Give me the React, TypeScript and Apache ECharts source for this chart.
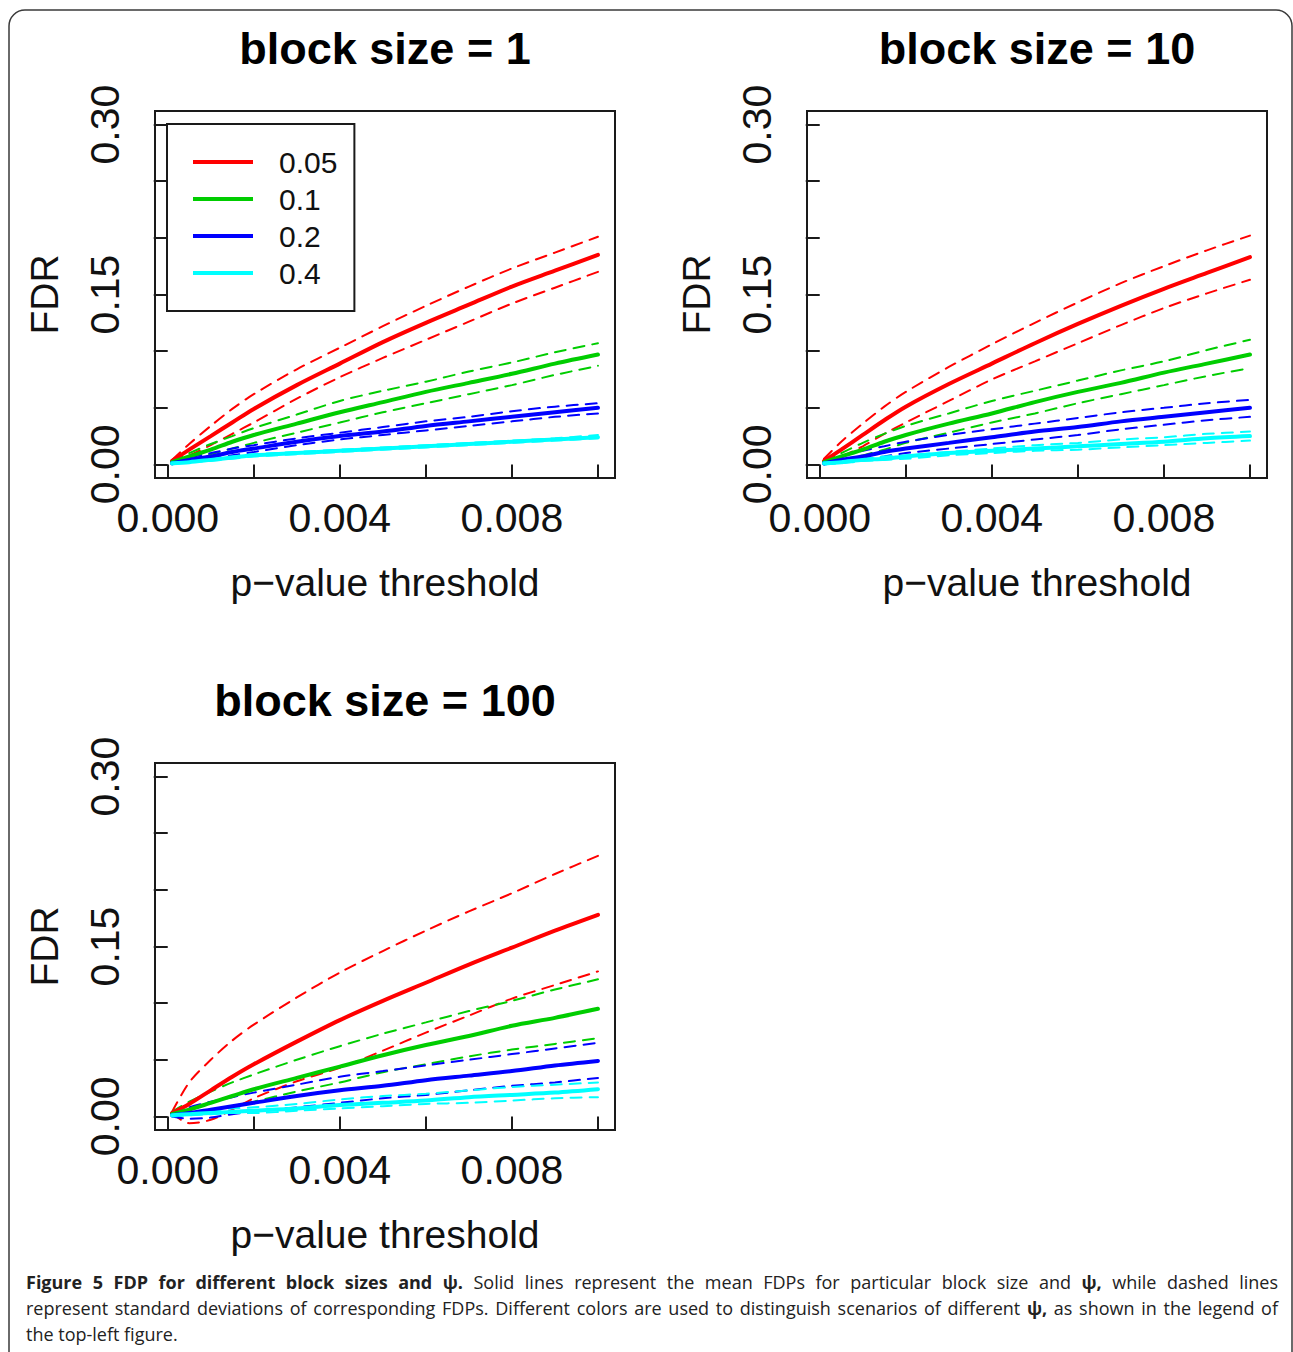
import React, { useEffect, useRef } from "react";
import * as echarts from "echarts";

// ---------------- data ----------------
const P_THRESHOLDS = [0.0001, 0.0005, 0.001, 0.0015, 0.002, 0.003, 0.004, 0.005, 0.006, 0.007, 0.008, 0.009, 0.01];
const PSI_LEVELS = ["0.05", "0.1", "0.2", "0.4"];
const PSI_COLORS = ["#FF0000", "#00CD00", "#0000FF", "#00FFFF"];
const PANEL_TITLES = ["block size = 1", "block size = 10", "block size = 100"];
const X_TICKS = [0, 0.002, 0.004, 0.006, 0.008, 0.01];
const X_LABELS = [0, 0.004, 0.008];
const Y_TICKS = [0, 0.05, 0.1, 0.15, 0.2, 0.25, 0.3];
const Y_LABELS = [0, 0.15, 0.3];

// each: [mean, mean + sd, mean - sd]
const BS1_PSI005 = [
  [0.003, 0.013, 0.025, 0.037, 0.049, 0.070, 0.089, 0.108, 0.125, 0.141, 0.157, 0.171, 0.185],
  [0.004, 0.018, 0.034, 0.049, 0.062, 0.084, 0.103, 0.122, 0.140, 0.157, 0.173, 0.187, 0.201],
  [0.002, 0.008, 0.017, 0.027, 0.037, 0.058, 0.077, 0.094, 0.110, 0.126, 0.142, 0.156, 0.170],
];
const BS1_PSI01 = [
  [0.002, 0.007, 0.013, 0.020, 0.026, 0.036, 0.046, 0.055, 0.064, 0.072, 0.080, 0.089, 0.097],
  [0.003, 0.010, 0.018, 0.025, 0.032, 0.044, 0.056, 0.065, 0.073, 0.082, 0.090, 0.099, 0.107],
  [0.001, 0.004, 0.009, 0.014, 0.019, 0.028, 0.037, 0.046, 0.054, 0.062, 0.070, 0.079, 0.087],
];
const BS1_PSI02 = [
  [0.001, 0.004, 0.007, 0.011, 0.014, 0.020, 0.025, 0.029, 0.034, 0.038, 0.042, 0.046, 0.050],
  [0.002, 0.006, 0.010, 0.014, 0.017, 0.023, 0.028, 0.033, 0.038, 0.042, 0.047, 0.051, 0.054],
  [0.001, 0.003, 0.005, 0.008, 0.011, 0.017, 0.022, 0.026, 0.030, 0.034, 0.038, 0.042, 0.045],
];
const BS1_PSI04 = [
  [0.001, 0.002, 0.004, 0.006, 0.008, 0.010, 0.012, 0.014, 0.016, 0.018, 0.020, 0.022, 0.024],
  [0.001, 0.003, 0.005, 0.007, 0.009, 0.011, 0.013, 0.015, 0.017, 0.019, 0.021, 0.023, 0.026],
  [0.000, 0.002, 0.003, 0.005, 0.007, 0.009, 0.011, 0.013, 0.015, 0.017, 0.019, 0.021, 0.023],
];

const BS10_PSI005 = [
  [0.003, 0.013, 0.026, 0.039, 0.051, 0.071, 0.089, 0.107, 0.124, 0.140, 0.155, 0.169, 0.183],
  [0.005, 0.020, 0.036, 0.051, 0.064, 0.086, 0.106, 0.125, 0.143, 0.160, 0.175, 0.189, 0.202],
  [0.002, 0.007, 0.016, 0.027, 0.037, 0.056, 0.075, 0.091, 0.107, 0.123, 0.138, 0.151, 0.163],
];
const BS10_PSI01 = [
  [0.002, 0.007, 0.013, 0.020, 0.026, 0.036, 0.045, 0.055, 0.064, 0.072, 0.081, 0.089, 0.097],
  [0.003, 0.010, 0.019, 0.027, 0.034, 0.045, 0.056, 0.065, 0.074, 0.083, 0.091, 0.101, 0.110],
  [0.001, 0.003, 0.008, 0.013, 0.019, 0.028, 0.037, 0.045, 0.054, 0.062, 0.070, 0.078, 0.085],
];
const BS10_PSI02 = [
  [0.001, 0.004, 0.007, 0.011, 0.014, 0.019, 0.024, 0.029, 0.033, 0.038, 0.042, 0.046, 0.050],
  [0.002, 0.007, 0.012, 0.016, 0.020, 0.026, 0.031, 0.036, 0.041, 0.046, 0.050, 0.054, 0.057],
  [0.000, 0.002, 0.004, 0.007, 0.010, 0.014, 0.018, 0.022, 0.026, 0.031, 0.035, 0.039, 0.042],
];
const BS10_PSI04 = [
  [0.001, 0.002, 0.004, 0.005, 0.007, 0.010, 0.012, 0.014, 0.016, 0.018, 0.020, 0.023, 0.025],
  [0.001, 0.003, 0.005, 0.007, 0.008, 0.011, 0.014, 0.017, 0.019, 0.022, 0.024, 0.027, 0.029],
  [0.000, 0.001, 0.003, 0.004, 0.005, 0.008, 0.010, 0.012, 0.013, 0.015, 0.017, 0.019, 0.021],
];

const BS100_PSI005 = [
  [0.003, 0.011, 0.023, 0.035, 0.046, 0.066, 0.085, 0.102, 0.118, 0.134, 0.149, 0.164, 0.178],
  [0.004, 0.030, 0.050, 0.067, 0.081, 0.105, 0.127, 0.146, 0.164, 0.181, 0.197, 0.214, 0.230],
  [0.003, -0.006, -0.003, 0.006, 0.016, 0.031, 0.043, 0.058, 0.074, 0.089, 0.104, 0.116, 0.128],
];
const BS100_PSI01 = [
  [0.002, 0.006, 0.012, 0.018, 0.024, 0.034, 0.044, 0.054, 0.063, 0.071, 0.080, 0.087, 0.095],
  [0.004, 0.013, 0.022, 0.030, 0.037, 0.050, 0.062, 0.073, 0.083, 0.093, 0.102, 0.112, 0.121],
  [0.001, 0.002, 0.005, 0.009, 0.013, 0.022, 0.030, 0.039, 0.046, 0.053, 0.059, 0.064, 0.069],
];
const BS100_PSI02 = [
  [0.001, 0.003, 0.006, 0.009, 0.012, 0.018, 0.023, 0.027, 0.032, 0.036, 0.040, 0.045, 0.049],
  [0.002, 0.008, 0.013, 0.017, 0.021, 0.028, 0.035, 0.040, 0.045, 0.050, 0.055, 0.060, 0.065],
  [0.000, -0.002, -0.001, 0.002, 0.004, 0.008, 0.012, 0.016, 0.019, 0.023, 0.027, 0.030, 0.034],
];
const BS100_PSI04 = [
  [0.001, 0.002, 0.003, 0.004, 0.005, 0.007, 0.010, 0.012, 0.014, 0.017, 0.019, 0.021, 0.024],
  [0.001, 0.003, 0.005, 0.007, 0.008, 0.011, 0.015, 0.018, 0.020, 0.023, 0.026, 0.028, 0.030],
  [0.000, 0.001, 0.002, 0.003, 0.003, 0.005, 0.007, 0.009, 0.011, 0.012, 0.014, 0.016, 0.017],
];

const PANEL_DATA = [
  [BS1_PSI005, BS1_PSI01, BS1_PSI02, BS1_PSI04],
  [BS10_PSI005, BS10_PSI01, BS10_PSI02, BS10_PSI04],
  [BS100_PSI005, BS100_PSI01, BS100_PSI02, BS100_PSI04],
];

const CAPTION_BOLD = "Figure 5 FDP for different block sizes and ψ.";
const CAPTION_LINE1 = "Solid lines represent the mean FDPs for particular block size and ψ, while dashed lines";
const CAPTION_LINE2 = "represent standard deviations of corresponding FDPs. Different colors are used to distinguish scenarios of different ψ, as shown in the legend of";
const CAPTION_LINE3 = "the top-left figure.";

// ---------------- layout ----------------
const W = 1293;
const H = 1352;
const FONT = '"Liberation Sans", Arial, Helvetica, sans-serif';
const CAP_FONT = '"Open Sans", "Noto Sans", sans-serif';
const CAP_SIZE = 18;
const INK = "#111111";
const PANEL_POS = [
  { left: 155, top: 111 },
  { left: 807, top: 111 },
  { left: 155, top: 763 },
];
const BOX_W = 460;
const BOX_H = 367;
const X_DATA_MIN = 0.0001;
const X_DATA_MAX = 0.01;
const X_PAD = (X_DATA_MAX - X_DATA_MIN) * 0.04;
const X_MIN = X_DATA_MIN - X_PAD;
const X_MAX = X_DATA_MAX + X_PAD;
const Y_MIN = -0.3 * 0.04;
const Y_MAX = 0.3 + 0.3 * 0.04;

function buildCaption(): any[] {
  const canvas = document.createElement("canvas");
  const ctx = canvas.getContext("2d") as CanvasRenderingContext2D;
  const measure = (t: string, bold: boolean) => {
    ctx.font = `${bold ? "bold " : ""}${CAP_SIZE}px ${CAP_FONT}`;
    return ctx.measureText(t).width;
  };
  const toWords = (s: string, bold: boolean) =>
    s.split(" ").map((w) => ({ t: w, b: bold || w.indexOf("ψ") >= 0 }));
  const lines = [
    [...toWords(CAPTION_BOLD, true), ...toWords(CAPTION_LINE1, false)],
    toWords(CAPTION_LINE2, false),
    toWords(CAPTION_LINE3, false),
  ];
  const left = 26;
  const right = 1278;
  const ys = [1282, 1308, 1334];
  const els: any[] = [];
  lines.forEach((words, li) => {
    const widths = words.map((w) => measure(w.t, w.b));
    const total = widths.reduce((a, b) => a + b, 0);
    const justify = li < 2;
    const gap = justify ? (right - left - total) / (words.length - 1) : measure(" ", false);
    let x = left;
    words.forEach((w, i) => {
      els.push({
        type: "text",
        x,
        y: ys[li],
        style: {
          text: w.t,
          fill: "#222",
          font: `${w.b ? "bold " : ""}${CAP_SIZE}px ${CAP_FONT}`,
          align: "left",
          verticalAlign: "middle",
        },
      });
      x += widths[i] + gap;
    });
  });
  return els;
}

export default function App() {
  const ref = useRef<HTMLDivElement>(null);
  useEffect(() => {
    if (!ref.current) return;
    const chart = echarts.init(ref.current, null, { renderer: "svg", width: W, height: H });

    const grids = PANEL_POS.map((p) => ({
      left: p.left,
      top: p.top,
      width: BOX_W,
      height: BOX_H,
      show: true,
      borderColor: "#1a1a1a",
      borderWidth: 2,
      backgroundColor: "transparent",
    }));

    const xAxes = PANEL_POS.map((_, i) => ({
      gridIndex: i,
      type: "value",
      min: X_MIN,
      max: X_MAX,
      offset: 2,
      axisLine: { show: false },
      splitLine: { show: false },
      axisTick: { show: true, customValues: X_TICKS, length: 14, lineStyle: { color: "#1a1a1a", width: 2 } },
      axisLabel: {
        customValues: X_LABELS,
        formatter: (v: number) => v.toFixed(3),
        fontSize: 41,
        color: INK,
        fontFamily: FONT,
        margin: 17,
      },
      name: "p−value threshold",
      nameLocation: "middle",
      nameGap: 83,
      nameTextStyle: { fontSize: 39, color: INK, fontFamily: FONT },
    }));

    const yAxes = PANEL_POS.map((_, i) => ({
      gridIndex: i,
      type: "value",
      min: Y_MIN,
      max: Y_MAX,
      offset: 2,
      axisLine: { show: false },
      splitLine: { show: false },
      axisTick: { show: true, customValues: Y_TICKS, length: 14, lineStyle: { color: "#1a1a1a", width: 2 } },
      axisLabel: {
        customValues: Y_LABELS,
        formatter: (v: number) => v.toFixed(2),
        rotate: 90,
        fontSize: 41,
        color: INK,
        fontFamily: FONT,
        margin: 28,
      },
      name: "FDR",
      nameLocation: "middle",
      nameRotate: 90,
      nameGap: 89,
      nameTextStyle: { fontSize: 39, color: INK, fontFamily: FONT },
    }));

    const series: any[] = [];
    PANEL_DATA.forEach((panel, pi) => {
      panel.forEach((triple, ci) => {
        triple.forEach((vals, k) => {
          series.push({
            type: "line",
            name: PSI_LEVELS[ci],
            xAxisIndex: pi,
            yAxisIndex: pi,
            data: P_THRESHOLDS.map((x, j) => [x, vals[j]]),
            symbol: "none",
            showSymbol: false,
            smooth: 0.3,
            z: k === 0 ? 3 : 2,
            itemStyle: { color: PSI_COLORS[ci] },
            lineStyle: {
              color: PSI_COLORS[ci],
              width: k === 0 ? 4 : 2,
              type: k === 0 ? "solid" : [11, 8],
              cap: "round",
            },
            emphasis: { disabled: true },
          });
        });
      });
    });

    const titles = PANEL_TITLES.map((t, i) => ({
      type: "text",
      x: PANEL_POS[i].left + BOX_W / 2,
      y: PANEL_POS[i].top - 63,
      style: {
        text: t,
        fill: "#000",
        font: `bold 45px ${FONT}`,
        align: "center",
        verticalAlign: "middle",
      },
    }));

    chart.setOption({
      animation: false,
      backgroundColor: "#ffffff",
      grid: grids,
      xAxis: xAxes,
      yAxis: yAxes,
      legend: {
        data: PSI_LEVELS,
        orient: "vertical",
        left: 167,
        top: 124,
        icon: "rect",
        itemWidth: 60,
        itemHeight: 4,
        itemGap: 7,
        padding: [23, 17, 23, 26],
        borderColor: "#1a1a1a",
        borderWidth: 2,
        selectedMode: false,
        textStyle: { fontSize: 30, color: INK, fontFamily: FONT, padding: [0, 0, 0, 21] },
      },
      graphic: [
        {
          type: "rect",
          shape: { x: 9, y: 10, width: 1283, height: 1400, r: 16 },
          style: { fill: "none", stroke: "#3a3a3a", lineWidth: 1.5 },
          silent: true,
        },
        ...titles,
        ...buildCaption(),
      ],
      series,
    });
    return () => chart.dispose();
  }, []);
  return <div ref={ref} style={{ position: "absolute", left: 0, top: 0, width: W, height: H }} />;
}
